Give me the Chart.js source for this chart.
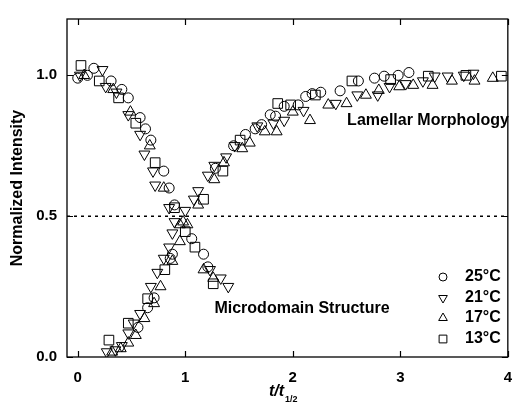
<!DOCTYPE html>
<html>
<head>
<meta charset="utf-8">
<script src="https://cdn.jsdelivr.net/npm/chart.js@4/dist/chart.umd.min.js"></script>
<style>
  html, body { margin: 0; padding: 0; background: #fff; }
  #wrap { width: 524px; height: 410px; }
</style>
</head>
<body>
<div id="wrap"><canvas id="chart" width="524" height="410"></canvas></div>
<script>
// [t/t1/2, normalized intensity] pairs, one decay + one growth branch per temperature
var decay25 = [[0.00, 0.99], [0.09, 1.00], [0.15, 1.025], [0.31, 0.98], [0.41, 0.95], [0.47, 0.92],
  [0.58, 0.85], [0.63, 0.81], [0.68, 0.77], [0.80, 0.66], [0.85, 0.60], [0.90, 0.54],
  [1.06, 0.42], [1.17, 0.365], [1.21, 0.32]];
var rise25 = [[0.56, 0.105], [0.65, 0.175], [0.71, 0.21], [0.86, 0.35], [0.88, 0.365],
  [1.28, 0.67], [1.45, 0.75], [1.56, 0.79], [1.65, 0.81], [1.71, 0.825], [1.79, 0.86],
  [1.84, 0.855], [1.92, 0.89], [2.05, 0.895], [2.12, 0.925], [2.18, 0.935], [2.26, 0.94],
  [2.44, 0.945], [2.61, 0.98], [2.76, 0.99], [2.85, 0.997], [2.98, 1.00], [3.08, 1.01]];

var decay21 = [[0.02, 1.00], [0.23, 1.02], [0.26, 0.96], [0.36, 0.94], [0.47, 0.86], [0.58, 0.79],
  [0.62, 0.72], [0.70, 0.66], [0.72, 0.61], [0.85, 0.53], [0.90, 0.48], [0.88, 0.44],
  [1.23, 0.31], [1.33, 0.28], [1.40, 0.25]];
var rise21 = [[0.27, 0.018], [0.35, 0.025], [0.41, 0.04], [0.47, 0.085], [0.52, 0.12], [0.58, 0.154],
  [0.68, 0.25], [0.74, 0.30], [0.80, 0.35], [0.85, 0.39], [1.00, 0.52], [1.08, 0.56],
  [1.12, 0.59], [1.21, 0.645], [1.27, 0.68], [1.38, 0.71], [1.46, 0.75], [1.67, 0.82],
  [1.82, 0.83], [1.92, 0.84], [2.10, 0.875], [2.40, 0.90], [2.60, 0.93], [2.79, 0.93],
  [2.90, 0.96], [3.05, 0.97], [3.21, 0.98], [3.32, 0.997], [3.44, 0.997], [3.59, 1.00], [3.68, 1.007]];

var decay17 = [[0.06, 1.00], [0.33, 0.95], [0.49, 0.87], [0.67, 0.75], [0.80, 0.60], [0.98, 0.48],
  [0.95, 0.41], [1.17, 0.31], [1.26, 0.28]];
var rise17 = [[0.32, 0.018], [0.40, 0.03], [0.47, 0.05], [0.54, 0.077], [0.62, 0.137], [0.71, 0.19],
  [0.77, 0.25], [0.88, 0.34], [0.95, 0.47], [1.02, 0.47], [1.12, 0.54], [1.27, 0.63],
  [1.36, 0.69], [1.53, 0.74], [1.60, 0.76], [1.74, 0.80], [1.85, 0.80], [2.00, 0.87],
  [2.16, 0.84], [2.33, 0.895], [2.50, 0.90], [2.68, 0.93], [2.80, 0.947], [2.99, 0.96],
  [3.12, 0.965], [3.30, 0.965], [3.48, 0.98], [3.69, 0.98], [3.86, 0.99]];

var decay13 = [[0.03, 1.035], [0.20, 0.98], [0.38, 0.92], [0.54, 0.83], [0.72, 0.69], [0.90, 0.53],
  [1.00, 0.445], [1.09, 0.39], [1.26, 0.26]];
var rise13 = [[0.29, 0.06], [0.47, 0.12], [0.65, 0.207], [0.81, 0.31], [1.17, 0.56], [1.35, 0.66],
  [1.51, 0.77], [1.86, 0.90], [1.98, 0.895], [2.21, 0.93], [2.55, 0.98], [2.91, 0.985],
  [3.26, 0.997], [3.61, 1.00], [3.94, 0.997]];

var seriesLabels = ["25°C", "21°C", "17°C", "13°C"];
var xTicks = [0, 1, 2, 3, 4];
var yTicks = [0, 0.5, 1.0];
var halfLevel = 0.5;

var FONT = "'Liberation Sans', Arial, Helvetica, sans-serif";

function toPoints(pairs) {
  return pairs.map(function (p) { return { x: p[0], y: p[1] }; });
}

function markerSet(label, pairs, style, radius, rotation) {
  return {
    type: "scatter",
    label: label,
    data: toPoints(pairs),
    pointStyle: style,
    pointRadius: radius,
    pointHoverRadius: radius,
    rotation: rotation,
    borderColor: "#000",
    backgroundColor: "rgba(0,0,0,0)",
    pointBorderWidth: 1
  };
}

var datasets = [
  {
    type: "line",
    label: "half",
    data: [{ x: -0.1, y: halfLevel }, { x: 4, y: halfLevel }],
    borderColor: "#000",
    borderWidth: 1.5,
    borderDash: [3, 4],
    pointRadius: 0,
    fill: false
  },
  markerSet(seriesLabels[0], decay25.concat(rise25), "circle", 5, 0),
  markerSet(seriesLabels[1], decay21.concat(rise21), "triangle", 6.3, 180),
  markerSet(seriesLabels[2], decay17.concat(rise17), "triangle", 6.3, 0),
  markerSet(seriesLabels[3], decay13.concat(rise13), "rect", 6.8, 0)
];

// frame, inward ticks, axis titles, annotations and the in-plot legend
var decorations = {
  id: "decorations",
  afterDraw: function (chart) {
    var ctx = chart.ctx;
    var a = chart.chartArea;
    var xs = chart.scales.x;
    var ys = chart.scales.y;
    ctx.save();
    ctx.strokeStyle = "#000";
    ctx.lineWidth = 1.3;
    ctx.strokeRect(a.left, a.top, a.right - a.left, a.bottom - a.top);

    ctx.lineWidth = 1.2;
    ctx.beginPath();
    xTicks.forEach(function (v) {
      var px = Math.round(xs.getPixelForValue(v)) + 0.5;
      ctx.moveTo(px, a.bottom); ctx.lineTo(px, a.bottom - 6);
      ctx.moveTo(px, a.top); ctx.lineTo(px, a.top + 6);
    });
    yTicks.forEach(function (v) {
      var py = Math.round(ys.getPixelForValue(v)) + 0.5;
      ctx.moveTo(a.left, py); ctx.lineTo(a.left + 6, py);
      ctx.moveTo(a.right, py); ctx.lineTo(a.right - 6, py);
    });
    ctx.stroke();

    ctx.fillStyle = "#000";
    ctx.textBaseline = "middle";

    // y title
    ctx.save();
    ctx.translate(18, (a.top + a.bottom) / 2);
    ctx.rotate(-Math.PI / 2);
    ctx.textAlign = "center";
    ctx.font = "bold 16px " + FONT;
    ctx.fillText("Normalized Intensity", 0, 0);
    ctx.restore();

    // x title t/t1/2
    ctx.textAlign = "left";
    ctx.font = "italic bold 16px " + FONT;
    var main = "t/t";
    var w = ctx.measureText(main).width;
    var x0 = 269;
    ctx.fillText(main, x0, 392);
    ctx.font = "bold 9px " + FONT;
    ctx.fillText("1/2", x0 + w + 1, 400);

    // annotations
    ctx.font = "bold 16px " + FONT;
    ctx.textAlign = "center";
    ctx.fillText("Lamellar Morphology", 428, 121);
    ctx.fillText("Microdomain Structure", 302, 309);

    // legend
    var rows = [277, 298, 318, 339];
    chart.data.datasets.slice(1).forEach(function (ds, i) {
      var r = ds.pointStyle === "circle" ? 4 : (ds.pointStyle === "rect" ? 5.5 : 5);
      ctx.lineWidth = 1;
      ctx.strokeStyle = "#000";
      ctx.fillStyle = "rgba(0,0,0,0)";
      Chart.helpers.drawPoint(ctx, {
        pointStyle: ds.pointStyle,
        radius: r,
        rotation: ds.rotation,
        borderWidth: 1
      }, 443, rows[i]);
      ctx.fillStyle = "#000";
      ctx.font = "bold 16px " + FONT;
      ctx.textAlign = "left";
      ctx.fillText(ds.label, 465, rows[i]);
    });
    ctx.restore();
  }
};

new Chart(document.getElementById("chart"), {
  type: "scatter",
  data: { datasets: datasets },
  plugins: [decorations],
  options: {
    responsive: false,
    animation: false,
    layout: { padding: { left: 0, top: 14, right: 6, bottom: 0 } },
    plugins: {
      legend: { display: false },
      tooltip: { enabled: false }
    },
    scales: {
      x: {
        type: "linear",
        min: -0.1,
        max: 4,
        grid: { display: false, drawTicks: false },
        border: { display: false },
        afterFit: function (scale) { scale.height = 53; },
        afterBuildTicks: function (scale) {
          scale.ticks = xTicks.map(function (v) { return { value: v }; });
        },
        ticks: {
          padding: 12,
          color: "#000",
          font: { family: FONT, size: 15, weight: "bold" },
          callback: function (v) { return String(v); }
        }
      },
      y: {
        type: "linear",
        min: 0,
        max: 1.2,
        grid: { display: false, drawTicks: false },
        border: { display: false },
        afterFit: function (scale) { scale.width = 67; },
        afterBuildTicks: function (scale) {
          scale.ticks = yTicks.map(function (v) { return { value: v }; });
        },
        ticks: {
          padding: 10,
          color: "#000",
          font: { family: FONT, size: 15, weight: "bold" },
          callback: function (v) { return v.toFixed(1); }
        }
      }
    }
  }
});
</script>
</body>
</html>
